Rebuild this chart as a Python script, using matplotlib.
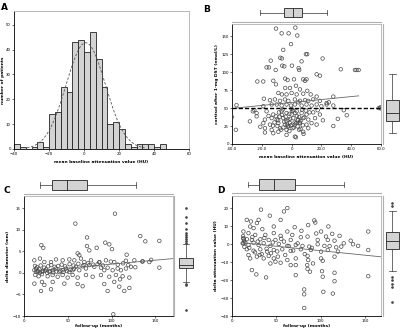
import numpy as np
import matplotlib
matplotlib.use("Agg")
import matplotlib.pyplot as plt

# ---- panel A: histogram of baseline attenuation ----
hist_edges_start = -40.0
hist_bin_width = 100.0 / 30
hist_counts = [2, 1, 0, 1, 3, 1, 14, 15, 25, 23, 43, 44, 39, 47, 36, 25,
               10, 11, 8, 2, 1, 2, 2, 2, 1, 2]
norm_mean = 1.0
norm_sd = 11.2

# ---- panel B: attenuation (HU) vs cortisol (nmol/L), (x, y) pairs ----
b_points = [
    (-10.5, 160.6), (2.5, 162.0), (-6.7, 154.0), (-2.0, 154.0), (3.8, 151.0),
    (-0.4, 139.0), (-5.6, 131.0), (9.6, 125.0), (10.5, 125.0), (6.7, 115.0),
    (20.8, 119.0), (-7.6, 120.0), (-6.5, 119.0), (-14.0, 116.0), (-16.8, 106.6),
    (-15.2, 106.6), (-10.7, 103.0), (-6.3, 109.0), (-4.9, 108.0), (0.2, 109.0),
    (4.7, 105.6), (5.1, 103.0), (16.8, 97.0), (19.0, 95.0), (33.0, 104.0),
    (42.5, 103.0), (43.6, 103.0), (45.0, 103.0), (-23.0, 87.0), (-19.0, 87.0),
    (-12.3, 88.0), (-10.5, 83.0), (-4.3, 91.0), (-2.7, 89.0), (1.6, 90.0),
    (7.8, 90.0), (9.0, 88.0), (10.0, 90.0), (-4.3, 78.0), (-1.1, 78.0),
    (2.9, 81.0), (5.6, 76.0), (10.5, 74.0), (-8.9, 71.0), (-6.5, 69.0),
    (-3.4, 69.0), (0.0, 71.0), (3.4, 69.0), (7.8, 70.0), (12.8, 69.0),
    (16.8, 66.0), (28.0, 66.0), (-18.6, 63.0), (-14.5, 61.0), (-11.2, 62.0),
    (-7.8, 60.0), (-4.5, 62.0), (-2.2, 60.0), (2.2, 62.0), (5.6, 60.0),
    (9.0, 61.0), (11.2, 60.0), (14.5, 62.0), (19.0, 60.0), (23.5, 57.0),
    (-19.0, 52.6), (-13.4, 55.0), (-10.0, 55.0), (-6.7, 53.5), (-3.4, 55.0),
    (-0.4, 53.5), (2.2, 55.0), (6.7, 53.5), (10.0, 55.0), (13.4, 53.5),
    (16.8, 55.0), (20.0, 52.6), (23.5, 55.0), (28.0, 53.5), (-37.0, 54.0),
    (-26.0, 45.5), (-23.5, 43.0), (-16.8, 45.5), (-12.3, 41.0), (-6.7, 45.5),
    (-3.4, 43.0), (0.0, 41.0), (3.4, 45.5), (6.7, 43.0), (10.0, 41.0),
    (14.5, 44.0), (19.0, 41.0), (-23.5, 38.5), (-17.9, 34.0), (-13.4, 36.0),
    (-10.0, 34.0), (-5.6, 36.0), (-2.2, 34.0), (1.1, 36.0), (4.5, 34.0),
    (7.8, 36.0), (11.2, 34.0), (15.7, 36.0), (37.0, 40.0), (-40.0, 37.5),
    (-28.0, 31.5), (-19.0, 29.0), (-14.5, 27.0), (-8.9, 29.0), (-4.5, 27.0),
    (-1.1, 29.0), (2.2, 27.0), (5.6, 29.0), (10.0, 27.0), (13.4, 29.0),
    (16.8, 27.0), (-17.9, 22.0), (-13.4, 19.7), (-7.8, 22.0), (-3.4, 19.7),
    (0.7, 22.0), (5.1, 19.7), (11.2, 22.0), (28.0, 25.0), (-37.4, 19.7),
    (-12.3, 15.0), (-3.4, 12.7), (2.2, 10.3), (2.9, 9.4), (-8.9, 17.0),
    (7.8, 17.0), (-17.9, 16.0), (58.5, 50.0), (59.5, 51.0), (60.0, 49.5),
    (-8.0, 38.0), (-5.0, 31.0), (-2.5, 24.0), (1.0, 47.0), (3.5, 39.0),
    (6.0, 32.0), (-9.5, 25.0), (-6.0, 48.0), (-1.5, 42.0), (2.0, 30.0),
    (4.0, 33.0), (8.5, 37.0), (-11.5, 30.0), (-7.0, 20.0), (-3.0, 27.0),
    (0.5, 46.0), (4.5, 58.0), (7.0, 48.0), (-5.5, 23.0), (-1.0, 35.0),
    (3.0, 29.0), (6.0, 21.0), (-9.0, 33.0), (-4.0, 38.0), (1.5, 23.0),
    (5.5, 30.0), (8.0, 14.0), (-2.0, 25.0), (0.0, 49.0), (12.0, 44.0),
    (-15.5, 39.0), (17.5, 47.0), (21.0, 33.0), (25.0, 58.0), (-21.0, 24.0),
    (-25.0, 47.0), (31.0, 35.0), (35.0, 47.0), (-6.5, 40.5), (-3.5, 32.5),
    (-0.5, 26.0), (2.5, 43.0), (5.0, 37.5), (-8.5, 44.0), (-1.5, 18.0),
    (4.0, 24.5), (7.5, 26.0), (-10.5, 38.5), (9.5, 46.5), (-12.5, 25.5),
]
b_fit_x = [-38.0, 45.0]
b_fit_y = [50.0, 67.0]
b_cutoff = 50.0
b_top_box = dict(whislo=-21.5, q1=-5.0, med=1.0, q3=7.0, whishi=24.0)
b_right_box = dict(whislo=15.8, q1=32.6, med=42.8, q3=61.5, whishi=97.8)

# ---- panel C: follow-up (months) vs delta diameter (mm) ----
c_points = [
    (58.6, 11.4), (103.8, 13.7), (132.7, 8.5), (138.4, 7.3), (154.4, 7.4),
    (154.4, 1.2), (71.9, 8.2), (19.8, 6.4), (22.0, 5.8), (71.9, 6.2),
    (82.9, 5.8), (92.7, 7.0), (97.3, 6.6), (100.4, 5.5), (74.5, 5.2),
    (117.1, 4.2), (61.2, 4.5), (63.1, 4.1), (11.8, 2.9), (18.2, 3.3),
    (23.2, 2.5), (30.8, 2.5), (36.5, 3.1), (44.1, 2.9), (51.7, 3.1),
    (57.4, 2.9), (65.0, 3.3), (68.8, 2.5), (76.4, 2.9), (85.9, 2.5),
    (93.5, 2.9), (103.0, 2.5), (116.3, 2.8), (125.9, 2.9), (135.4, 2.7),
    (143.0, 2.5), (11.8, 0.6), (13.7, 1.0), (15.6, 0.2), (17.5, 0.8),
    (21.3, 0.5), (25.1, 0.8), (28.9, 0.2), (32.7, 0.6), (36.5, 1.0),
    (40.3, 0.2), (44.1, 0.6), (47.9, 1.0), (51.7, 0.2), (55.5, 0.6),
    (59.3, 1.4), (63.1, 0.6), (66.9, 1.5), (70.7, 1.0), (74.5, 1.8),
    (80.2, 1.4), (84.0, 2.0), (87.8, 1.2), (91.6, 0.6), (95.4, 1.2),
    (101.1, 0.6), (106.8, 1.0), (110.6, 0.6), (116.3, 1.0), (122.0, 1.4),
    (12.9, -0.5), (16.7, -0.8), (20.5, -0.3), (27.0, -0.8), (32.7, -0.5),
    (38.4, -0.9), (44.1, -0.5), (49.8, -1.1), (55.5, -0.5), (61.2, -1.1),
    (70.7, -0.5), (78.3, -0.9), (87.8, -0.5), (97.3, -0.9), (104.9, -0.5),
    (112.5, -0.8), (11.8, -2.5), (20.5, -2.1), (23.2, -2.8), (32.7, -2.1),
    (46.0, -2.5), (61.2, -2.6), (66.9, -3.1), (91.6, -2.6), (103.0, -2.1),
    (108.7, -3.2), (109.5, -1.5), (120.2, -1.1), (19.4, -4.2), (30.8, -3.8),
    (95.4, -4.2), (114.4, -4.2), (120.2, -3.5), (101.9, -9.6), (14.0, 0.3),
    (16.0, 0.4), (18.5, 0.1), (21.0, 0.3), (24.0, 0.5), (26.5, 0.0),
    (29.5, 0.4), (33.5, 0.1), (37.0, 0.3), (41.5, 0.5), (45.0, 0.2),
    (49.0, 0.4), (53.0, 0.7), (57.0, 0.9), (12.5, 1.6), (15.0, 1.3),
    (19.0, 1.7), (23.0, 1.2), (27.5, 1.5), (31.0, 1.8), (35.0, 1.4),
    (39.0, 1.6), (43.0, 1.9), (47.0, 1.5), (52.0, 2.0), (56.5, 1.7),
    (62.0, 2.1), (68.0, 1.8), (73.0, 2.2), (79.0, 1.9), (86.0, 2.4),
    (90.0, 1.7), (99.0, 2.6), (107.0, 1.9), (113.0, 2.2), (119.0, 1.8),
    (127.0, 1.3), (135.0, 2.6), (145.0, 3.0),
]
c_fit_x = [12.0, 170.0]
c_fit_y = [0.4, 3.3]
c_top_box = dict(whislo=18.0, q1=32.0, med=49.6, q3=72.0, whishi=128.0)
c_right_box = dict(whislo=-2.2, q1=1.1, med=1.9, q3=3.5, whishi=6.6,
                   fliers=[7.0, 7.3, 7.8, 8.3, 8.7, 9.3, 10.2, 11.6, 13.0, 15.1,
                           -2.6, -2.8, -8.5])

# ---- panel D: follow-up (months) vs delta attenuation (HU) ----
d_points = [
    (62.4, 20.2), (58.6, 18.3), (32.7, 19.3), (42.6, 15.9), (54.8, 13.6),
    (16.7, 13.6), (21.3, 12.7), (28.1, 11.8), (30.0, 13.6), (92.8, 13.3),
    (93.9, 12.1), (85.9, 10.7), (108.7, 9.9), (70.7, 9.5), (20.5, 9.9),
    (24.3, 9.0), (34.2, 8.4), (47.1, 9.9), (62.4, 7.1), (78.3, 7.5),
    (100.4, 7.1), (47.1, 6.2), (37.6, 5.2), (12.9, 7.1), (18.6, 6.2),
    (26.2, 5.2), (54.8, 4.7), (68.0, 5.2), (85.2, 4.3), (106.0, 4.3),
    (113.0, 5.8), (121.3, 4.7), (77.6, 3.9), (96.6, 2.4), (108.0, 2.4),
    (12.9, 3.4), (16.7, 2.8), (22.4, 2.4), (31.9, 2.8), (41.4, 2.4),
    (49.0, 2.4), (58.6, 1.5), (66.2, 2.4), (115.6, 2.0), (133.8, 2.0),
    (136.5, 0.0), (142.2, -0.9), (153.6, 7.1), (12.9, 0.6), (18.6, -0.4),
    (24.3, 0.9), (30.0, -0.4), (35.7, 0.6), (43.3, -0.9), (52.8, 0.2),
    (62.4, -0.9), (71.9, -0.4), (79.5, -0.9), (87.1, -1.3), (96.6, 0.0),
    (104.2, -0.9), (117.5, -1.7), (123.2, -1.3), (153.6, -3.2), (16.7, -2.8),
    (24.3, -3.6), (31.9, -2.8), (39.5, -4.1), (47.1, -3.2), (56.7, -2.8),
    (66.2, -3.7), (77.6, -2.8), (89.0, -3.2), (100.4, -4.1), (108.0, -3.2),
    (119.4, -4.1), (18.6, -6.0), (20.5, -7.9), (28.1, -6.9), (31.2, -6.0),
    (35.7, -7.9), (41.4, -6.5), (47.1, -7.9), (49.0, -9.7), (51.7, -6.9),
    (54.8, -10.3), (62.4, -8.8), (71.9, -7.9), (85.2, -6.5), (100.4, -7.9),
    (115.6, -6.9), (43.3, -10.7), (66.2, -11.6), (71.9, -11.6), (85.9, -8.8),
    (91.3, -10.7), (84.8, -11.6), (102.3, -9.2), (22.4, -14.4), (27.4, -16.8),
    (38.4, -18.5), (71.9, -17.2), (85.2, -13.8), (87.9, -15.3), (101.5, -15.0),
    (102.3, -18.1), (115.6, -15.9), (115.6, -20.6), (153.6, -17.8), (81.4, -25.2),
    (81.4, -27.9), (103.0, -26.5), (113.7, -27.5), (81.4, -35.5), (12.5, 4.5),
    (13.5, 2.0), (12.0, 0.5), (14.0, -1.5), (13.0, 3.0), (15.0, 1.0),
    (19.5, -2.0), (23.0, 4.0), (26.0, -4.5), (29.0, 1.5), (33.5, -5.5),
    (36.5, 3.5), (39.0, -2.5), (44.0, -5.0), (46.0, 1.0), (51.0, -4.0),
    (55.5, 3.0), (60.0, -6.0), (64.0, -1.0), (69.0, -3.5), (74.0, 0.5),
    (82.0, -5.5), (90.0, -2.0), (95.0, 6.0), (110.0, -1.0), (126.0, 0.5),
]
d_fit_x = [12.0, 168.0]
d_fit_y = [0.8, -7.0]
d_top_box = dict(whislo=18.0, q1=31.0, med=47.7, q3=70.7, whishi=126.0)
d_right_box = dict(whislo=-14.8, q1=-2.6, med=2.0, q3=7.0, whishi=18.7,
                   fliers=[21.3, 23.0, -18.5, -19.8, -22.0, -24.0, -32.0])

W, H = 400, 330
fig = plt.figure(figsize=(4.0, 3.3), dpi=100)

tick_fs = 2.8
lab_fs = 3.2
spine_gray = "#b0b0b0"
box_fill = "#d3d3d3"


def fax(left, top, right, bottom):
    """axes from a pixel box"""
    return fig.add_axes([left / W, 1 - bottom / H, (right - left) / W, (bottom - top) / H])


def style_main(ax):
    for s in ["top", "right"]:
        ax.spines[s].set_color(spine_gray)
        ax.spines[s].set_linewidth(0.6)
    for s in ["left", "bottom"]:
        ax.spines[s].set_linewidth(0.6)
    ax.tick_params(labelsize=tick_fs, length=1.5, width=0.4, pad=0.8)


def scatter(ax, pts):
    x, y = zip(*pts)
    ax.scatter(x, y, s=6.5, facecolors="none", edgecolors="#4a4a4a", linewidths=0.5,
               zorder=3)


def boxstyle():
    return dict(patch_artist=True,
                boxprops=dict(facecolor=box_fill, edgecolor="#222222", linewidth=0.6),
                medianprops=dict(color="#222222", linewidth=0.6),
                whiskerprops=dict(color="#333333", linewidth=0.5),
                capprops=dict(color="#333333", linewidth=0.5),
                flierprops=dict(marker="o", markersize=0.9, markerfacecolor="#444444",
                                markeredgecolor="#444444", linestyle="none"))


def top_box(main, top, bottom, stats, widths):
    p = main.get_position()
    ax = fig.add_axes([p.x0, 1 - bottom / H, p.width, (bottom - top) / H], sharex=main)
    st = dict(stats)
    st.setdefault("fliers", [])
    ax.bxp([st], positions=[1.0], orientation="horizontal", widths=widths, **boxstyle())
    ax.set_ylim(0, 2)
    for s in ["top", "left", "right"]:
        ax.spines[s].set_visible(False)
    ax.spines["bottom"].set_color(spine_gray)
    ax.spines["bottom"].set_linewidth(0.8)
    ax.tick_params(left=False, bottom=False, labelleft=False, labelbottom=False)
    return ax


def right_box(main, left, right, stats, widths, center):
    p = main.get_position()
    ax = fig.add_axes([left / W, p.y0, (right - left) / W, p.height], sharey=main)
    st = dict(stats)
    st.setdefault("fliers", [])
    ax.bxp([st], positions=[center], widths=widths, **boxstyle())
    ax.set_xlim(0, 2)
    for s in ["top", "bottom", "right"]:
        ax.spines[s].set_visible(False)
    ax.spines["left"].set_color(spine_gray)
    ax.spines["left"].set_linewidth(0.8)
    ax.tick_params(left=False, bottom=False, labelleft=False, labelbottom=False)
    return ax


# ---------------- A ----------------
axA = fax(14, 11, 189, 149)
edges = hist_edges_start + hist_bin_width * np.arange(len(hist_counts))
axA.bar(edges, hist_counts, width=hist_bin_width, align="edge", color=box_fill,
        edgecolor="#222222", linewidth=0.6)
xs = np.linspace(norm_mean - 3 * norm_sd, norm_mean + 3 * norm_sd, 200)
n_total = sum(hist_counts)
curve = n_total * hist_bin_width / (norm_sd * np.sqrt(2 * np.pi)) * \
    np.exp(-0.5 * ((xs - norm_mean) / norm_sd) ** 2)
axA.plot(xs, curve, color="#555555", linestyle=(0, (3, 2)), linewidth=0.6, zorder=4)
axA.set_xlim(-40, 60)
axA.set_ylim(0, 55.5)
axA.set_xticks([-40, -20, 0, 20, 40, 60])
axA.set_yticks([0, 10, 20, 30, 40, 50])
axA.set_xlabel("mean baseline attenuation value (HU)", fontsize=lab_fs,
               fontweight="bold", labelpad=2.5)
axA.set_ylabel("number of patients", fontsize=lab_fs, fontweight="bold", labelpad=0.8)
style_main(axA)

# ---------------- B ----------------
axB = fax(232, 24, 381, 144)
scatter(axB, b_points)
axB.plot(b_fit_x, b_fit_y, color="#666666", linewidth=0.6, zorder=4)
axB.axhline(b_cutoff, color="black", linestyle=(0, (3, 1.5)), linewidth=1.0, zorder=5)
axB.set_xlim(-40, 60)
axB.set_ylim(0, 167)
axB.set_xticks([-40, -20, 0, 20, 40, 60])
axB.set_xticklabels(["-40.0", "-20.0", "0", "20.0", "40.0", "60.0"])
axB.set_yticks([0, 25, 50, 75, 100, 125, 150])
axB.set_xlabel("mean baseline attenuation value (HU)", fontsize=lab_fs,
               fontweight="bold", labelpad=2.5)
axB.set_ylabel("cortisol after 1-mg DST (nmol/L)", fontsize=lab_fs,
               fontweight="bold", labelpad=2)
style_main(axB)
top_box(axB, 3, 22, b_top_box, 1.05)
right_box(axB, 383, 400, b_right_box, 1.5, 1.1)

# ---------------- C ----------------
axC = fax(24, 196, 173, 316)
scatter(axC, c_points)
axC.plot(c_fit_x, c_fit_y, color="#666666", linewidth=0.6, zorder=4)
axC.set_xlim(0, 170)
axC.set_ylim(-10, 17.8)
axC.set_xticks([0, 50, 100, 150])
axC.set_yticks([-10, -5, 0, 5, 10, 15])
axC.set_xlabel("follow-up (months)", fontsize=lab_fs, fontweight="bold", labelpad=0.6)
axC.set_ylabel("delta diameter (mm)", fontsize=lab_fs, fontweight="bold", labelpad=2)
style_main(axC)
top_box(axC, 176, 194, c_top_box, 1.2)
right_box(axC, 174, 198, c_right_box, 1.15, 1.0)

# ---------------- D ----------------
axD = fax(232, 196, 381, 316)
scatter(axD, d_points)
axD.plot(d_fit_x, d_fit_y, color="#666666", linewidth=0.6, zorder=4)
axD.set_xlim(0, 168)
axD.set_ylim(-40, 26.9)
axD.set_xticks([0, 50, 100, 150])
axD.set_yticks([-40, -30, -20, -10, 0, 10, 20])
axD.set_xlabel("follow-up (months)", fontsize=lab_fs, fontweight="bold", labelpad=0.6)
axD.set_ylabel("delta attenuation value (HU)", fontsize=lab_fs, fontweight="bold",
               labelpad=2)
style_main(axD)
top_box(axD, 176, 193, d_top_box, 1.2)
right_box(axD, 383, 400, d_right_box, 1.5, 1.1)

# panel letters
for letter, px, py in [("A", 1, 7), ("B", 203, 9), ("C", 3, 190), ("D", 217, 190)]:
    fig.text(px / W, 1 - py / H, letter, fontsize=6.5, fontweight="bold",
             va="center", ha="left")

fig.savefig("out.png", dpi=100)
